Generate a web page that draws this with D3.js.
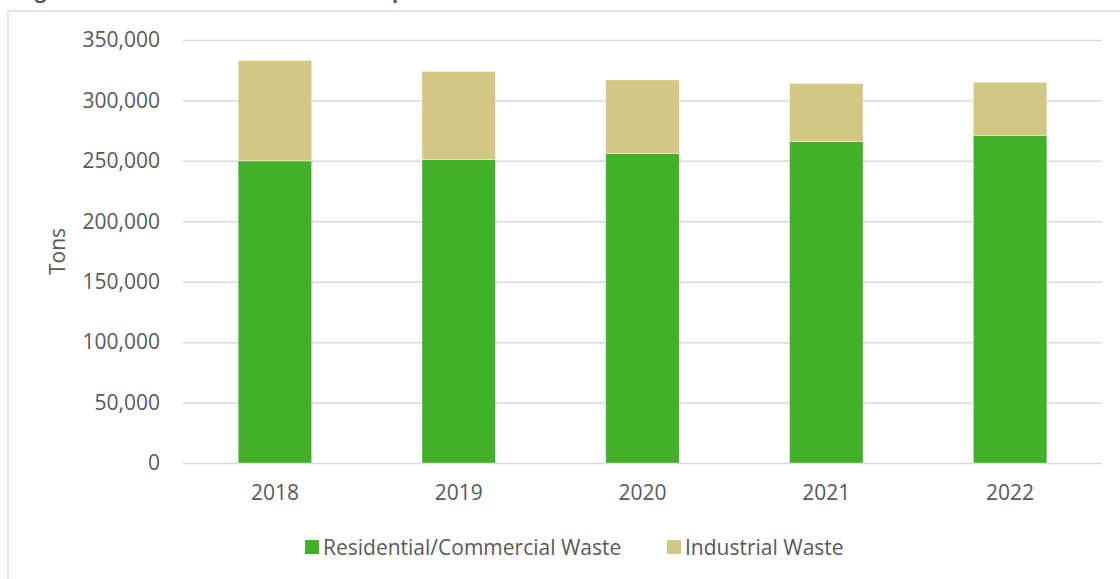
<!DOCTYPE html>
<html>
<head>
<meta charset="utf-8">
<script src="https://cdn.jsdelivr.net/npm/d3@7"></script>
<style>
  body { margin: 0; background: #fff; }
  text { font-family: "Open Sans", sans-serif; }
</style>
</head>
<body>
<div id="waste-chart"></div>
<script>
const years = ["2018", "2019", "2020", "2021", "2022"];
const residential = [250000, 251000, 256000, 266000, 271000];
const industrial = [83000, 73000, 61000, 48000, 44000];
const yTicks = [0, 50000, 100000, 150000, 200000, 250000, 300000, 350000];
const seriesNames = ["Residential/Commercial Waste", "Industrial Waste"];

document.addEventListener("DOMContentLoaded", function () {
  function createWasteChart() {
    const colors = ["#43b02a", "#d2c785"];
    const textColor = "#595959";
    const fontSize = "21px";
    const margin = { top: 40, right: 18, bottom: 116, left: 183 };
    const width = 1102 - margin.left;
    const height = 463 - margin.top;

    const root = d3
      .select("#waste-chart")
      .append("svg")
      .attr("width", 1120)
      .attr("height", 579);

    // figure title, mostly above the visible area (only descenders show)
    root
      .append("text")
      .attr("x", 18)
      .attr("y", -2)
      .style("font-size", "20px")
      .style("font-weight", "bold")
      .style("fill", "#44546a")
      .text("Figure 5. Total Annual Solid Waste Disposed");

    root
      .append("rect")
      .attr("x", 8)
      .attr("y", 11)
      .attr("width", 1300)
      .attr("height", 800)
      .attr("fill", "none")
      .attr("stroke", "#d9d9d9")
      .attr("stroke-width", 1.3);

    const svg = root
      .append("g")
      .attr("transform", `translate(${margin.left},${margin.top})`);

    const x = d3
      .scaleBand()
      .range([0, width])
      .domain(years)
      .paddingInner(0.6)
      .paddingOuter(0.3);

    const y = d3.scaleLinear().domain([0, 350000]).range([height, 0]);

    const yAxis = svg
      .append("g")
      .call(
        d3
          .axisLeft(y)
          .tickValues(yTicks)
          .tickSize(-width)
          .tickPadding(23)
          .tickFormat(d3.format(","))
      );
    yAxis.select(".domain").remove();
    yAxis.selectAll(".tick line").attr("stroke", "#d9d9d9").attr("stroke-width", 1.5);
    yAxis
      .selectAll(".tick text")
      .style("font-size", fontSize)
      .style("fill", textColor)
      .style("font-family", "Open Sans, sans-serif");

    const xAxis = svg
      .append("g")
      .attr("transform", `translate(0, ${height})`)
      .call(d3.axisBottom(x).tickSize(0).tickPadding(22));
    xAxis.select(".domain").remove();
    xAxis
      .selectAll(".tick text")
      .style("font-size", fontSize)
      .style("fill", textColor)
      .style("font-family", "Open Sans, sans-serif");

    svg
      .append("text")
      .attr("transform", "rotate(-90)")
      .attr("x", 0 - height / 2)
      .attr("y", 58 - margin.left)
      .attr("dy", "0.35em")
      .style("text-anchor", "middle")
      .style("font-size", fontSize)
      .style("fill", textColor)
      .text("Tons");

    const table = years.map((yr, i) => ({
      year: yr,
      residential: residential[i],
      industrial: industrial[i],
    }));
    const stack = d3.stack().keys(["residential", "industrial"])(table);

    svg
      .selectAll("g.series")
      .data(stack)
      .enter()
      .append("g")
      .attr("class", "series")
      .attr("fill", (d, i) => colors[i])
      .selectAll("rect")
      .data((d) => d)
      .enter()
      .append("rect")
      .attr("x", (d) => x(d.data.year))
      .attr("y", (d) => y(d[1]))
      .attr("width", x.bandwidth())
      .attr("height", (d) => y(d[0]) - y(d[1]))
      .attr("stroke", "#ffffff")
      .attr("stroke-opacity", 0.5)
      .attr("stroke-width", 0.75);

    // legend
    const legendX = [305, 667];
    const legend = root
      .selectAll("g.legend")
      .data(seriesNames)
      .enter()
      .append("g")
      .attr("class", "legend")
      .attr("transform", (d, i) => `translate(${legendX[i]}, 540)`);

    legend
      .append("rect")
      .attr("width", 14)
      .attr("height", 14)
      .attr("fill", (d, i) => colors[i]);

    legend
      .append("text")
      .attr("x", 18)
      .attr("y", 15)
      .style("font-size", fontSize)
      .style("fill", textColor)
      .text((d) => d);
  }

  if (document.getElementById("waste-chart")) {
    createWasteChart();
  }
});
</script>
</body>
</html>
